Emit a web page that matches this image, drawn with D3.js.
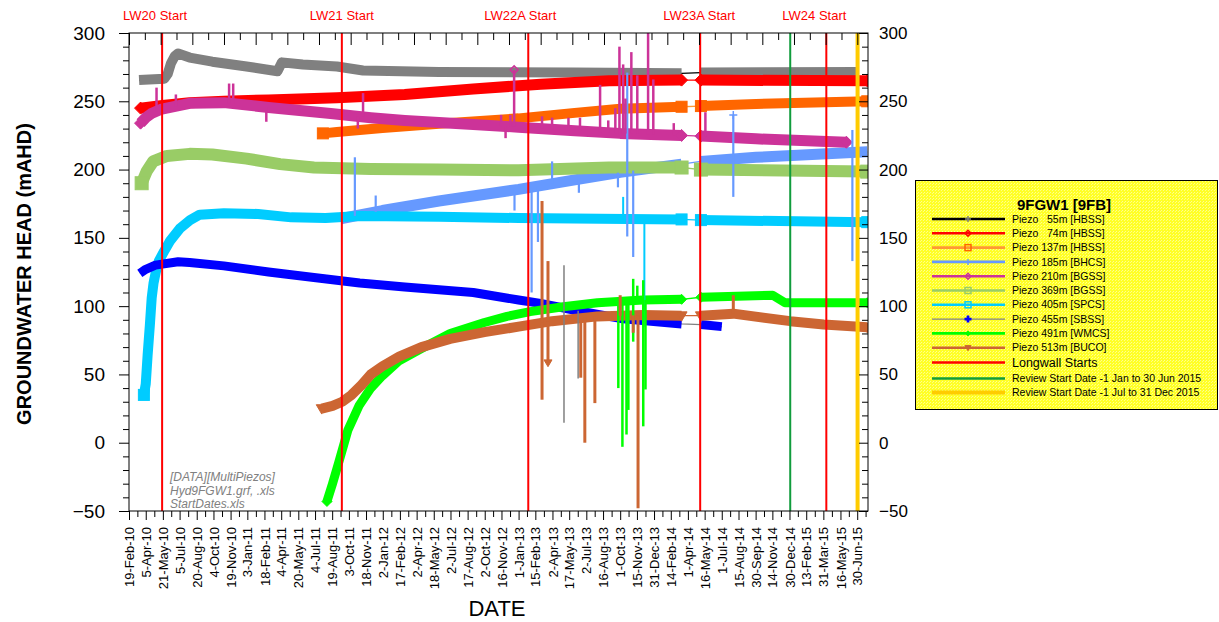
<!DOCTYPE html>
<html>
<head>
<meta charset="utf-8">
<script src="https://cdn.jsdelivr.net/npm/d3@7"></script>
<style>
  html, body { margin: 0; padding: 0; background: #fff; }
  svg { display: block; font-family: Arial, "Liberation Sans", sans-serif; }
</style>
</head>
<body>
<svg id="chart" width="1219" height="622"></svg>
<script>
// ---------------- data ----------------
const xDomain = ["2010-02-19", "2015-07-29"];
const yTicks = [-50, 0, 50, 100, 150, 200, 250, 300];
const xTickLabels = ["19-Feb-10","5-Apr-10","21-May-10","5-Jul-10","20-Aug-10","4-Oct-10","19-Nov-10","3-Jan-11",
  "18-Feb-11","4-Apr-11","20-May-11","4-Jul-11","19-Aug-11","3-Oct-11","18-Nov-11","2-Jan-12","17-Feb-12",
  "2-Apr-12","18-May-12","2-Jul-12","17-Aug-12","2-Oct-12","16-Nov-12","1-Jan-13","15-Feb-13","2-Apr-13",
  "17-May-13","2-Jul-13","16-Aug-13","1-Oct-13","15-Nov-13","31-Dec-13","14-Feb-14","1-Apr-14","16-May-14",
  "1-Jul-14","15-Aug-14","30-Sep-14","14-Nov-14","30-Dec-14","13-Feb-15","31-Mar-15","16-May-15","30-Jun-15"];

// Groundwater head (mAHD) per piezometer; null = logging gap
const piezo55 = [["2010-03-18",265.5],["2010-05-25",266.5],["2010-06-03",270],["2010-06-12",278],["2010-06-22",283],
  ["2010-07-01",285],["2010-08-01",282],["2010-10-01",279],["2011-01-01",275.5],["2011-03-25",272],["2011-04-06",278.5],
  ["2011-06-01",277],["2011-09-01",275.5],["2011-11-10",272.5],["2012-06-01",271.5],["2013-06-01",271],["2014-03-15",270.5],
  null,["2014-05-06",271],["2015-06-28",271.5]];
const piezo74 = [["2010-03-22",245],["2010-05-20",247],["2010-08-01",249],["2010-11-01",250],["2011-03-01",251],
  ["2011-09-01",252.5],["2012-03-01",255],["2012-09-01",259],["2013-03-01",262.5],["2013-09-01",265],["2014-03-15",265.5],
  null,["2014-05-06",265.5],["2015-07-27",265]];
const piezo137 = [["2011-07-25",226.5],["2011-09-01",227.5],["2012-01-01",230.5],["2012-06-01",233.5],["2013-01-01",237.5],
  ["2013-06-01",241.5],["2013-10-01",244.5],["2014-03-15",246],null,["2014-05-06",246.5],["2014-10-01",248],["2015-07-27",250]];
const piezo185 = [["2011-09-10",164],["2012-01-01",170],["2012-06-01",177],["2013-01-01",185.5],["2013-06-01",192.5],
  ["2013-10-01",198],["2014-03-15",204],null,["2014-05-06",206],["2014-10-01",209],["2015-07-27",213]];
const piezo210 = [["2010-03-22",234],["2010-04-05",238],["2010-04-20",241],["2010-05-15",244],["2010-08-01",248.5],
  ["2010-11-01",249],["2011-03-01",245.5],["2011-08-15",241],["2011-12-01",238],["2012-03-01",236],["2012-09-01",233],
  ["2013-01-01",231],["2013-06-01",228.5],["2013-10-01",226.5],["2014-03-15",225],null,["2014-05-06",224.5],
  ["2014-10-01",222.5],["2015-06-01",220]];
const piezo369 = [["2010-03-25",190],["2010-04-08",199],["2010-04-25",206],["2010-06-01",210],["2010-08-01",211.5],
  ["2010-10-01",211],["2011-01-01",208],["2011-04-01",204],["2011-07-01",201.5],["2011-12-01",200.5],["2012-06-01",200],
  ["2013-01-01",199.5],["2013-09-01",201.5],["2014-03-15",201.5],null,["2014-05-06",200],["2015-07-27",198.5]];
const piezo405 = [["2010-03-31",35],["2010-04-05",43],["2010-04-10",64],["2010-04-16",86],["2010-04-21",106],
  ["2010-04-26",117],["2010-05-02",125],["2010-05-10",133],["2010-05-24",140],["2010-06-10",148],["2010-07-06",157],
  ["2010-08-02",163],["2010-08-28",167],["2010-11-01",168],["2011-02-01",167.5],["2011-05-01",165],["2011-08-01",164.5],
  ["2011-11-01",166],["2012-06-01",165.5],["2013-01-01",164.5],["2014-03-15",163.5],null,["2014-05-06",163],["2015-07-27",161.5]];
const piezo455 = [["2010-03-20",124],["2010-04-05",127],["2010-05-01",130],["2010-07-01",132.5],["2010-08-01",132],
  ["2010-11-01",129.5],["2011-03-01",125],["2011-07-01",121],["2011-11-01",117],["2012-03-01",114],["2012-09-01",110],
  ["2013-01-01",104.5],["2013-03-01",102],["2013-06-01",97],["2013-10-01",91],["2014-03-15",87],null,["2014-05-06",86.5],
  ["2014-07-01",85]];
const piezo491 = [["2011-08-05",-43],["2011-08-20",-30],["2011-09-05",-15],["2011-09-30",9],["2011-10-30",27],
  ["2011-12-01",40],["2012-01-01",49],["2012-02-15",60],["2012-04-15",69],["2012-07-01",80],["2012-10-01",88],
  ["2012-12-01",92.5],["2013-02-01",96],["2013-05-01",99.5],["2013-08-01",102.5],["2013-12-01",104.5],["2014-03-15",105],
  null,["2014-05-06",106.5],["2014-11-15",108],["2014-12-18",102.5],["2015-07-27",102.5]];
const piezo513 = [["2011-07-22",25],["2011-08-20",27],["2011-09-15",30],["2011-10-10",35],["2011-11-05",42],
  ["2011-12-01",50],["2012-01-01",56],["2012-02-15",63],["2012-04-15",70],["2012-07-01",76],["2012-10-01",81],
  ["2013-01-01",85],["2013-04-01",89],["2013-08-01",92.5],["2013-12-01",93.5],["2014-03-15",93],null,["2014-05-06",93],
  ["2014-08-01",94.5],["2015-01-01",89],["2015-04-01",86.5],["2015-07-27",84.5]];

// Single-reading excursions: [date, head, tip marker shown]
const spikes185 = [["2011-10-19",209],["2011-12-14",181],["2012-12-21",170],["2013-02-05",110],["2013-02-22",147],
  ["2013-04-01",206],["2013-06-12",183],["2013-09-25",187],["2013-10-20",271],["2013-10-20",151],["2013-11-05",136],
  ["2014-08-01",240,1],["2014-08-01",180],["2015-06-17",229],["2015-06-17",133]];
const spikes210 = [["2010-05-04",260],["2010-06-25",255],["2010-11-15",263],["2010-11-26",263],["2011-02-23",235],
  ["2011-10-27",230],["2011-11-10",256],["2012-11-15",240],["2012-11-27",223],["2012-12-10",240],["2012-12-20",273,1],
  ["2013-03-05",239],["2013-04-01",238],["2013-05-15",238],["2013-06-15",238],["2013-08-08",262],["2013-08-30",236],
  ["2013-09-18",245],["2013-09-29",290],["2013-10-09",277],["2013-10-15",252],["2013-10-31",286],["2013-11-16",269],
  ["2013-12-15",305],["2013-12-29",266],["2014-02-22",234],["2014-05-18",242]];
const spikes405 = [["2013-10-09",180],["2013-12-05",85]];
const spikes455 = [["2013-05-03",130],["2013-05-03",14.6],["2013-06-10",47]];
const spikes491 = [["2013-09-26",40],["2013-10-07",-3],["2013-10-18",6],["2013-10-23",24],["2013-11-05",120],
  ["2013-11-05",74],["2013-11-16",115],["2013-12-02",119],["2013-12-02",12],["2013-12-08",39]];
const spikes513 = [["2013-03-05",177],["2013-03-05",31.5],["2013-03-21",133],["2013-03-21",58.6,1],["2013-06-17",47.6],
  ["2013-06-28",0],["2013-07-25",29],["2013-10-01",108],["2013-11-05",80.5],["2013-11-18",-48],["2014-08-01",108]];

const seriesLabels = ["Piezo   55m [HBSS]","Piezo   74m [HBSS]","Piezo 137m [HBSS]","Piezo 185m [BHCS]",
  "Piezo 210m [BGSS]","Piezo 369m [BGSS]","Piezo 405m [SPCS]","Piezo 455m [SBSS]","Piezo 491m [WMCS]","Piezo 513m [BUCO]"];
const longwallNames = ["LW20 Start","LW21 Start","LW22A Start","LW23A Start","LW24 Start"];
const longwallDates = ["2010-05-19","2011-09-14","2013-01-27","2014-05-04","2015-04-08"];
const reviewDates = ["2015-01-01","2015-07-01"];
const reviewLabels = ["Review Start Date -1 Jan to 30 Jun 2015","Review Start Date -1 Jul to 31 Dec 2015"];
const legendTitle = "9FGW1 [9FB]";
const sourceNote = ["[DATA][MultiPiezos]","Hyd9FGW1.grf, .xls","StartDates.xls"];

// ---------------- styling ----------------
const styles = [
  {line:"#000000", band:"#808080", marker:"plus",        mcol:"#808080", bw:10, sw:2},
  {line:"#ff0000", band:"#ff0000", marker:"diamond",     mcol:"#ff0000", bw:11, sw:2},
  {line:"#ff9933", band:"#ff6600", marker:"square",      mcol:"#ff6600", bw:10, sw:2},
  {line:"#6699ff", band:"#6699ff", marker:"plus",        mcol:"#6699ff", bw:11, sw:2.2},
  {line:"#cc3399", band:"#cc3399", marker:"diamond",     mcol:"#cc3399", bw:11, sw:2.5},
  {line:"#99cc66", band:"#99cc66", marker:"square",      mcol:"#99cc66", bw:12, sw:2},
  {line:"#00ccff", band:"#00ccff", marker:"square",      mcol:"#00ccff", bw:10, sw:2},
  {line:"#808080", band:"#0000ff", marker:"cross",       mcol:"#0000ff", bw:9,  sw:1.5},
  {line:"#00ff00", band:"#00ff00", marker:"diamondFill", mcol:"#00ff00", bw:9,  sw:2.5},
  {line:"#cc6633", band:"#cc6633", marker:"triDown",     mcol:"#cc6633", bw:10, sw:3}
];
const seriesData = [piezo55, piezo74, piezo137, piezo185, piezo210, piezo369, piezo405, piezo455, piezo491, piezo513];
const seriesSpikes = [[], [], [], spikes185, spikes210, [], spikes405, spikes455, spikes491, spikes513];
const longwallLabelShift = [-7, 0, -8, -1, -12];
const reviewColors = ["#109c3c", "#ffcc00"];
const reviewWidths = [2, 4];
const topTickStepDays = 42.55;

// ---------------- setup ----------------
const parseDate = d3.utcParse("%Y-%m-%d");
const parseTick = d3.utcParse("%d-%b-%y");
const plot = {left: 129, right: 868, top: 33, bottom: 511};

const svg = d3.select("#chart");
const x = d3.scaleUtc().domain(xDomain.map(parseDate)).range([plot.left, plot.right]);
const y = d3.scaleLinear().domain([-50, 300]).range([plot.bottom, plot.top]);

const defs = svg.append("defs");
defs.append("clipPath").attr("id", "plotClip").append("rect")
  .attr("x", plot.left).attr("y", plot.top)
  .attr("width", plot.right - plot.left).attr("height", plot.bottom - plot.top);
const pat = defs.append("pattern").attr("id", "legendFill")
  .attr("width", 3).attr("height", 3).attr("patternUnits", "userSpaceOnUse");
pat.append("rect").attr("width", 3).attr("height", 3).attr("fill", "#ffff26");
pat.append("rect").attr("width", 1).attr("height", 1).attr("fill", "#ffff90");
pat.append("rect").attr("x", 2).attr("y", 1).attr("width", 1).attr("height", 1).attr("fill", "#ffff80");

function drawMarker(g, type, cx, cy, r, color, sw, filled) {
  const dia = `M${cx},${cy - r}L${cx + r},${cy}L${cx},${cy + r}L${cx - r},${cy}Z`;
  const fill = filled ? color : "none";
  switch (type) {
    case "plus":
      g.append("path").attr("d", `M${cx - r},${cy}H${cx + r}M${cx},${cy - r}V${cy + r}`)
        .attr("stroke", color).attr("stroke-width", sw).attr("fill", "none"); break;
    case "cross":
      g.append("path").attr("d", `M${cx - r},${cy}H${cx + r}M${cx},${cy - r}V${cy + r}`)
        .attr("stroke", color).attr("stroke-width", sw * 1.8).attr("fill", "none"); break;
    case "diamond":
      g.append("path").attr("d", dia).attr("stroke", color).attr("stroke-width", sw).attr("fill", fill); break;
    case "diamondFill":
      g.append("path").attr("d", dia).attr("stroke", color).attr("stroke-width", 1).attr("fill", color); break;
    case "square":
      g.append("rect").attr("x", cx - r).attr("y", cy - r).attr("width", 2 * r).attr("height", 2 * r)
        .attr("stroke", color).attr("stroke-width", sw).attr("fill", fill); break;
    case "triDown":
      g.append("path").attr("d", `M${cx - r},${cy - r * 0.7}L${cx + r},${cy - r * 0.7}L${cx},${cy + r}Z`)
        .attr("stroke", color).attr("stroke-width", 1).attr("fill", color); break;
  }
}

function valueAt(pts, t) {
  const i = d3.bisector(d => d[0]).left(pts, t);
  if (i <= 0) return pts[0][1];
  if (i >= pts.length) return pts[pts.length - 1][1];
  const a = pts[i - 1], b = pts[i];
  return a[1] + (t - a[0]) / (b[0] - a[0]) * (b[1] - a[1]);
}

// ---------------- series ----------------
const gData = svg.append("g").attr("clip-path", "url(#plotClip)");
const lineGen = d3.line().x(d => x(d[0])).y(d => y(d[1]));
const parsedSeries = seriesData.map(data => data.filter(d => d).map(d => [parseDate(d[0]), d[1]]));

seriesData.forEach((data, si) => {
  const st = styles[si];
  const g = gData.append("g");
  g.append("path").attr("d", lineGen(parsedSeries[si])).attr("fill", "none")
    .attr("stroke", st.line).attr("stroke-width", 1.3);
  const segs = [];
  let cur = [];
  data.forEach(d => {
    if (!d) { if (cur.length) segs.push(cur); cur = []; }
    else cur.push([parseDate(d[0]), d[1]]);
  });
  if (cur.length) segs.push(cur);
  segs.forEach(seg => {
    g.append("path").attr("d", lineGen(seg)).attr("fill", "none")
      .attr("stroke", st.band).attr("stroke-width", st.bw)
      .attr("stroke-linejoin", "round").attr("stroke-linecap", "butt");
    if (st.marker !== "plus" && st.marker !== "cross") {
      [seg[0], seg[seg.length - 1]].forEach(p =>
        drawMarker(g, st.marker, x(p[0]), y(p[1]), st.bw / 2 + 0.5, st.band, 1, true));
    }
  });
});

// excursions drawn above all bands
seriesSpikes.forEach((spk, si) => {
  const st = styles[si];
  const pts = parsedSeries[si];
  spk.forEach(s => {
    const t = parseDate(s[0]);
    const base = valueAt(pts, t);
    gData.append("line").attr("x1", x(t)).attr("x2", x(t))
      .attr("y1", y(base)).attr("y2", y(s[1]))
      .attr("stroke", si === 7 ? st.line : st.band).attr("stroke-width", st.sw);
    if (s[2]) drawMarker(gData, st.marker, x(t), y(s[1]), 4, st.mcol, 1.5, false);
  });
});

// ---------------- event lines ----------------
const gEvents = svg.append("g");
longwallDates.forEach((d, i) => {
  const xx = x(parseDate(d));
  gEvents.append("line").attr("x1", xx).attr("x2", xx).attr("y1", plot.top).attr("y2", plot.bottom)
    .attr("stroke", "#ff0000").attr("stroke-width", 2);
  svg.append("text").attr("x", xx + longwallLabelShift[i]).attr("y", 20)
    .attr("text-anchor", "middle").attr("font-size", 13).attr("fill", "#ff0000").text(longwallNames[i]);
});
reviewDates.forEach((d, i) => {
  const xx = x(parseDate(d));
  gEvents.append("line").attr("x1", xx).attr("x2", xx).attr("y1", plot.top).attr("y2", plot.bottom)
    .attr("stroke", reviewColors[i]).attr("stroke-width", reviewWidths[i]);
});

// ---------------- axes ----------------
const xTickDates = xTickLabels.map(parseTick);
const xMinor = xTickDates.map((d, i) => new Date(+d + (i < xTickDates.length - 1 ? (xTickDates[i + 1] - d) : (d - xTickDates[i - 1])) / 2));

const axBottom = svg.append("g").attr("transform", `translate(0,${plot.bottom})`)
  .call(d3.axisBottom(x).tickValues(xTickDates).tickSize(9).tickSizeOuter(0).tickFormat((d, i) => xTickLabels[i]));
axBottom.selectAll("text").attr("transform", "rotate(-90)").attr("text-anchor", "end")
  .attr("x", -16).attr("y", 0).attr("dy", "0.35em").attr("font-size", 13).attr("fill", "#000")
  .attr("font-family", "Arial, 'Liberation Sans', sans-serif");
svg.append("g").attr("transform", `translate(0,${plot.bottom})`)
  .call(d3.axisBottom(x).tickValues(xMinor.filter(d => d <= x.domain()[1])).tickSize(6).tickSizeOuter(0).tickFormat(""));

const [d0, d1] = x.domain();
const topTicks = d3.range(0, Math.floor((d1 - d0) / 864e5 / topTickStepDays) + 1)
  .map(k => new Date(+d0 + k * topTickStepDays * 864e5));
svg.append("g").attr("transform", `translate(0,${plot.top})`)
  .call(d3.axisTop(x).tickValues(topTicks.filter((d, k) => k % 2 === 0)).tickSize(-12).tickSizeOuter(0).tickFormat(""));
svg.append("g").attr("transform", `translate(0,${plot.top})`)
  .call(d3.axisTop(x).tickValues(topTicks.filter((d, k) => k % 2 === 1)).tickSize(-7).tickSizeOuter(0).tickFormat(""));

const yMinor = d3.range(-50, 301, 10).filter(v => v % 50 !== 0);
const axLeft = svg.append("g").attr("transform", `translate(${plot.left},0)`)
  .call(d3.axisLeft(y).tickValues(yTicks).tickSize(10).tickPadding(14).tickSizeOuter(0).tickFormat(d3.format("d")));
axLeft.selectAll("text").attr("font-size", 19).attr("fill", "#000").attr("font-family", "Arial, 'Liberation Sans', sans-serif");
svg.append("g").attr("transform", `translate(${plot.left},0)`)
  .call(d3.axisLeft(y).tickValues(yMinor).tickSize(6).tickSizeOuter(0).tickFormat(""));

const axRight = svg.append("g").attr("transform", `translate(${plot.right},0)`)
  .call(d3.axisRight(y).tickValues(yTicks).tickSize(-9).tickPadding(11).tickSizeOuter(0).tickFormat(d3.format("d")));
axRight.selectAll("text").attr("font-size", 17).attr("fill", "#000").attr("font-family", "Arial, 'Liberation Sans', sans-serif");
svg.append("g").attr("transform", `translate(${plot.right},0)`)
  .call(d3.axisRight(y).tickValues(yMinor).tickSize(-6).tickSizeOuter(0).tickFormat(""));

svg.selectAll(".domain").remove();
svg.selectAll(".tick line").attr("stroke", "#000").attr("stroke-width", 1);

svg.append("rect").attr("x", plot.left).attr("y", plot.top)
  .attr("width", plot.right - plot.left).attr("height", plot.bottom - plot.top)
  .attr("fill", "none").attr("stroke", "#000").attr("stroke-width", 1);

// axis titles
svg.append("text").attr("transform", "translate(31,274) rotate(-90)").attr("text-anchor", "middle")
  .attr("font-size", 20).attr("font-weight", "bold").text("GROUNDWATER HEAD (mAHD)");
svg.append("text").attr("x", 497).attr("y", 616).attr("text-anchor", "middle")
  .attr("font-size", 22).text("DATE");

// source note
sourceNote.forEach((t, i) => {
  svg.append("text").attr("x", 170).attr("y", 481 + i * 13.5).attr("font-size", 12)
    .attr("font-style", "italic").attr("fill", "#808080").text(t);
});

// ---------------- legend ----------------
const lg = svg.append("g");
lg.append("rect").attr("x", 915.5).attr("y", 180.5).attr("width", 302).attr("height", 229)
  .attr("fill", "url(#legendFill)").attr("stroke", "#000").attr("stroke-width", 1);
lg.append("text").attr("x", 1064).attr("y", 210).attr("text-anchor", "middle")
  .attr("font-size", 15).attr("font-weight", "bold").text(legendTitle);

const lx0 = 932, lx1 = 1005, lmx = 968, ltx = 1012;
seriesLabels.forEach((lab, i) => {
  const st = styles[i];
  const cy = 219 + i * 14.3;
  lg.append("line").attr("x1", lx0).attr("x2", lx1).attr("y1", cy).attr("y2", cy)
    .attr("stroke", st.line).attr("stroke-width", i === 7 ? 1.3 : 2.6);
  const r = st.marker === "diamondFill" ? 2.5 : (st.marker === "cross" ? 3.5 : 3);
  drawMarker(lg, st.marker, lmx, cy, r, st.mcol, 1.5, false);
  lg.append("text").attr("x", ltx).attr("y", cy).attr("dy", "0.35em").attr("font-size", 10.5)
    .attr("xml:space", "preserve").style("white-space", "pre").text(lab);
});
const extraRows = [
  {label: "Longwall Starts", color: "#ff0000", w: 2.6, cy: 362.5, fs: 12.5},
  {label: reviewLabels[0], color: reviewColors[0], w: 2.6, cy: 378.5, fs: 10.5},
  {label: reviewLabels[1], color: reviewColors[1], w: 3.8, cy: 392.5, fs: 10.5}
];
extraRows.forEach(r => {
  lg.append("line").attr("x1", lx0).attr("x2", lx1).attr("y1", r.cy).attr("y2", r.cy)
    .attr("stroke", r.color).attr("stroke-width", r.w);
  lg.append("text").attr("x", ltx).attr("y", r.cy).attr("dy", "0.35em").attr("font-size", r.fs).text(r.label);
});
</script>
</body>
</html>
